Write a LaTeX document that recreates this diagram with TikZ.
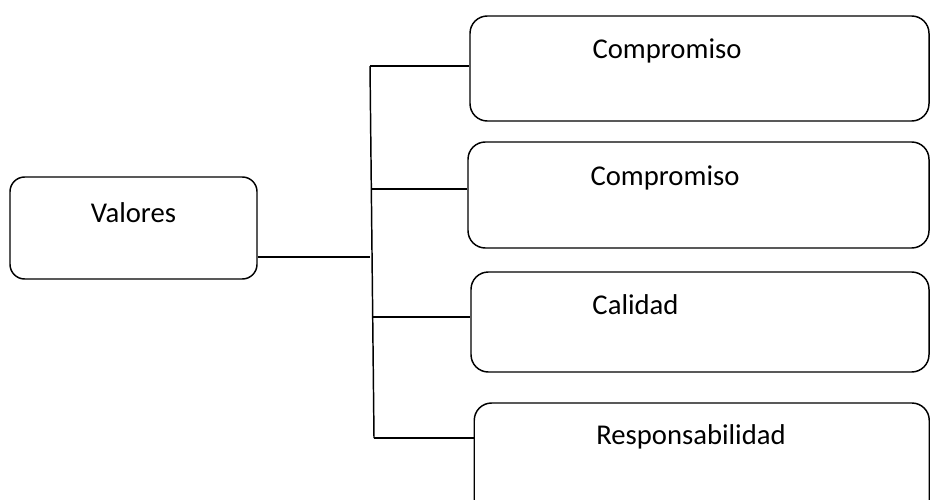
\documentclass[tikz,border=0pt]{standalone}
\usepackage{fontspec}
\setmainfont{Carlito}
\begin{document}
\begin{tikzpicture}[x=0.75pt,y=-0.75pt,
  box/.style={draw=black,line width=1.1pt,rounded corners=13pt,inner sep=0pt},
  lbl/.style={anchor=base,inner sep=0pt,font=\fontsize{21.5}{25}\selectfont},
  conn/.style={draw=black,line width=1.1pt}]
\useasboundingbox (0,0) rectangle (930,499);
\clip (0,0) rectangle (930,499);
\fill[white] (0,0) rectangle (930,499);
% boxes
\node[box,rounded corners=11pt,minimum width=247*0.75pt,minimum height=102*0.75pt] (v) at (133.5,228) {};
\node[box,minimum width=459*0.75pt,minimum height=105*0.75pt] (b1) at (699.5,68.5) {};
\node[box,minimum width=461*0.75pt,minimum height=106*0.75pt] (b2) at (698.5,195) {};
\node[box,minimum width=458*0.75pt,minimum height=100*0.75pt] (b3) at (700,322) {};
\node[box,minimum width=455*0.75pt,minimum height=117*0.75pt] (b4) at (701.75,461.5) {};
% labels
\node[lbl] (tv) at (133.5,222) {Valores};
\node[lbl] (t1) at (667,59) {Compromiso};
\node[lbl] (t2) at (665,185) {Compromiso};
\node[lbl] (t3) at (635.5,314) {Calidad};
\node[lbl] (t4) at (691,444) {Responsabilidad};
% trunk
\coordinate (j1) at (370,66);
\coordinate (j2) at (371.5,189);
\coordinate (j0) at (372,257);
\coordinate (j3) at (373,317);
\coordinate (j4) at (374,438);
\draw[conn] (j1) -- (j4);
\draw[conn] (j1) -- (j1 -| b1.west);
\draw[conn] (j2) -- (j2 -| b2.west);
\draw[conn] (j3) -- (j3 -| b3.west);
\draw[conn] (j4) -- (j4 -| b4.west);
\draw[conn] (j0 -| v.east) -- ([xshift=-2*0.75pt]j0);
\end{tikzpicture}
\end{document}
